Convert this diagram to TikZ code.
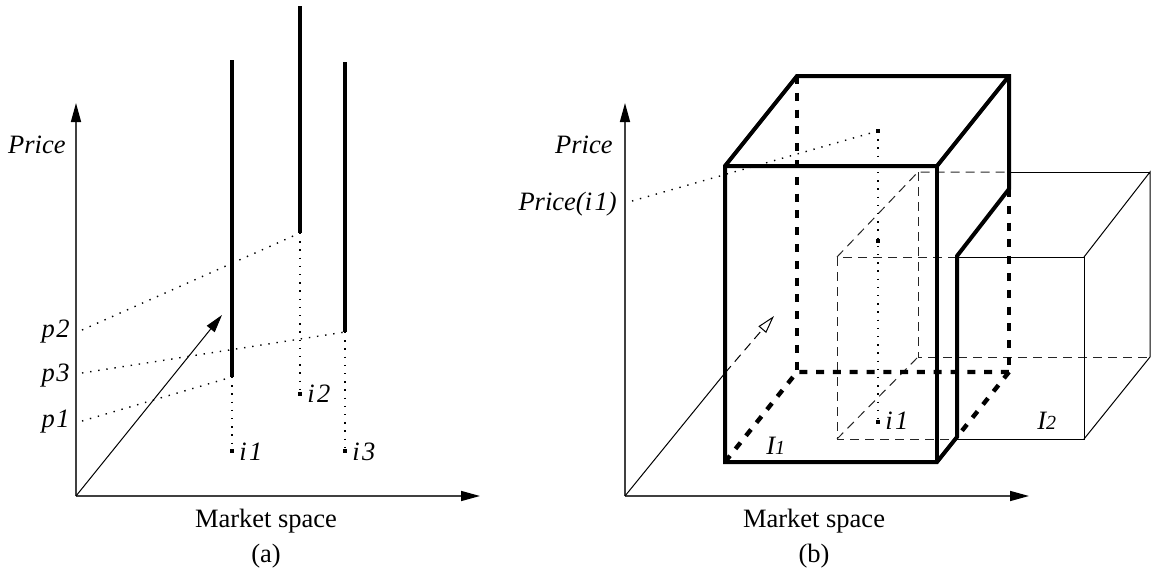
\documentclass[tikz,border=0pt]{standalone}
\usepackage{fontspec}
\setmainfont{Liberation Serif}
\usetikzlibrary{arrows.meta}
\begin{document}
\begin{tikzpicture}[x=0.5pt,y=-0.5pt,
  axis/.style={line width=0.8pt, draw=black!75, -{Triangle[length=9.5pt,width=5pt,color=black]}},
  arr/.style={line width=0.5pt, -{Triangle[length=9pt,width=5pt]}},
  openarr/.style={line width=0.5pt, dash pattern=on 4.5pt off 3pt, -{Triangle[open,length=9pt,width=5pt,fill=white]}},
  bar/.style={line width=2pt},
  thickedge/.style={line width=2pt, line join=miter},
  thickhidden/.style={line width=2.2pt, dash pattern=on 4pt off 4.4pt},
  thinedge/.style={line width=0.5pt},
  thinhidden/.style={line width=0.5pt, draw=black!85, dash pattern=on 4.5pt off 3pt},
  proj/.style={line width=0.7pt, dash pattern=on 0.7pt off 3.4pt},
  ptmark/.style={fill, rectangle, inner sep=0pt, minimum size=2pt},
  lbl/.style={font=\itshape\fontsize{13.25}{15}\selectfont, inner sep=0pt},
  capt/.style={font=\fontsize{13.25}{15}\selectfont, inner sep=0pt}
]
\useasboundingbox (0,0) rectangle (1153,573);

% ---------------- (a) ----------------
\coordinate (Ao) at (76,496);
\coordinate (Ay) at (76,103);
\coordinate (Ax) at (480,496);
\coordinate (Ad) at (222,315);
\coordinate (B1t) at (232,60);  \coordinate (B1b) at (232,377);
\coordinate (B2t) at (300,6);   \coordinate (B2b) at (300,233);
\coordinate (B3t) at (345,62);  \coordinate (B3b) at (345,332);
\coordinate (p2s) at (82,330);
\coordinate (p3s) at (82,373);
\coordinate (p1s) at (82,421);

\node[ptmark] (ia1) at (232,451) {};
\node[ptmark] (ia2) at (300,394) {};
\node[ptmark] (ia3) at (345,451) {};

\draw[axis] (Ao) -- (Ay);
\draw[axis] (Ao) -- (Ax);
\draw[arr] (Ao) -- (Ad);

\draw[proj] (p2s) -- (B2b);
\draw[proj] (p3s) -- (B3b);
\draw[proj] (p1s) -- (B1b);
\draw[proj] (B1b) -- (ia1.center);
\draw[proj] (B2b) -- (ia2.center);
\draw[proj] (B3b) -- (ia3.center);

\draw[bar] (B1t) -- (B1b);
\draw[bar] (B2t) -- (B2b);
\draw[bar] (B3t) -- (B3b);

\node[lbl, anchor=base east] (priceA) at (66,153) {Price};
\node[lbl, anchor=base east] (p2) at (70,337) {p\kern0.8pt 2};
\node[lbl, anchor=base east] (p3) at (70,381) {p\kern0.8pt 3};
\node[lbl, anchor=base east] (p1) at (70,427) {p\kern0.8pt 1};
\node[lbl, anchor=base west] (li1) at (239,460) {i\kern1.2pt 1};
\node[lbl, anchor=base west] (li2) at (307,402) {i\kern1.2pt 2};
\node[lbl, anchor=base west] (li3) at (352,460) {i\kern1.2pt 3};
\node[capt, anchor=base] (msA) at (266,527) {Market space};
\node[capt, anchor=base] (capA) at (266,562) {(a)};

% ---------------- (b) ----------------
\coordinate (Bo) at (625,496);
\coordinate (By) at (625,103);
\coordinate (Bx) at (1029,496);
\coordinate (Bm) at (725,373);
\coordinate (Bd) at (774,316);

% I1 box
\coordinate (F1) at (725,166);
\coordinate (F2) at (937,166);
\coordinate (F3) at (937,462);
\coordinate (F4) at (725,462);
\coordinate (T1) at (797,76);
\coordinate (T2) at (1009,76);
\coordinate (K1) at (1009,189);
\coordinate (K2) at (957,256);
\coordinate (K3) at (957,437);
\coordinate (Bb1) at (797,372);
\coordinate (Bb2) at (1009,372);

% I2 box
\coordinate (G1) at (837,257);
\coordinate (G2) at (1084,257);
\coordinate (G3) at (1084,439);
\coordinate (G4) at (837,439);
\coordinate (H1) at (918,172);
\coordinate (H2) at (1150,172);
\coordinate (H3) at (1150,357);
\coordinate (H4) at (918,357);
\coordinate (G1a) at (957,257);
\coordinate (G4a) at (957,439);
\coordinate (H1a) at (1009,172);

\draw[axis] (Bo) -- (By);
\draw[axis] (Bo) -- (Bx);
\draw[line width=0.5pt] (Bo) -- (Bm);
\draw[openarr] (Bm) -- (Bd);

% thin hidden edges of I2
\draw[thinhidden] (G1a) -- (G1) -- (G4) -- (G4a);
\draw[thinhidden] (G1) -- (H1) -- (H1a);
\draw[thinhidden] (H1) -- (H4) -- (H3);
\draw[thinhidden] (G4) -- (H4);
% thin visible edges of I2
\draw[thinedge] (G1a) -- (G2) -- (G3) -- (G4a);
\draw[thinedge] (G2) -- (H2) -- (H3) -- (G3);
\draw[thinedge] (H1a) -- (H2);

% projection of i1
\node[ptmark] (Q) at (878,131) {};
\node[ptmark] (Qm) at (878,241) {};
\node[ptmark] (ib1) at (878,422) {};
\coordinate (Pi) at (632,201);
\draw[proj] (Pi) -- (Q.center);
\draw[proj] (Q.center) -- (ib1.center);

% thick hidden edges of I1
\draw[thickhidden] (T1) -- (Bb1);
\draw[thickhidden] (F4) -- (Bb1) -- (Bb2);
\draw[thickhidden] (K1) -- (Bb2);
\draw[thickhidden] (Bb2) -- (K3);
% thick visible edges of I1
\draw[thickedge] (F4) -- (F1) -- (T1) -- (T2) -- (K1) -- (K2) -- (K3) -- (F3) -- cycle;
\draw[thickedge] (F1) -- (F2) -- (T2);
\draw[thickedge] (F2) -- (F3);

\node[lbl, anchor=base east] (priceB) at (613,153) {Price};
\node[lbl, anchor=base east] (priceI) at (617,210) {Price(i\kern1.2pt 1)};
\node[lbl, anchor=base west] (lib1) at (885,429) {i\kern1.2pt 1};
\node[lbl, anchor=base west] (lI1) at (766,454) {I{\fontsize{10}{10}\selectfont 1}};
\node[lbl, anchor=base west] (lI2) at (1037,429) {I{\fontsize{10}{10}\selectfont 2}};
\node[capt, anchor=base] (msB) at (814,527) {Market space};
\node[capt, anchor=base] (capB) at (814,562) {(b)};
\end{tikzpicture}
\end{document}
